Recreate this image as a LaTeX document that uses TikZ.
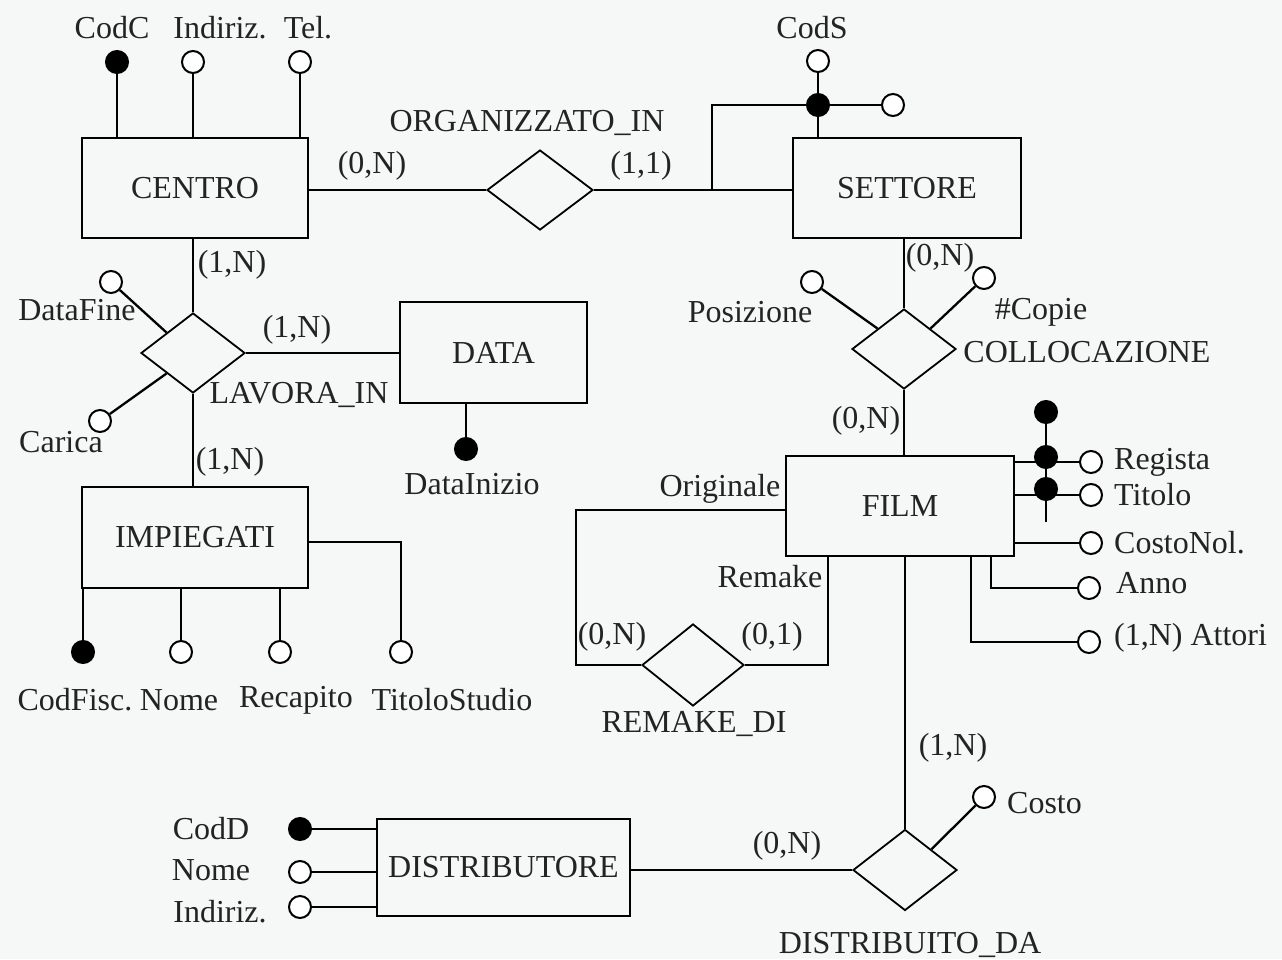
\documentclass[tikz,border=0pt]{standalone}
\usepackage{fontspec}
\setmainfont{Liberation Serif}
\usetikzlibrary{shapes.geometric}
\definecolor{bgc}{RGB}{245,248,246}
\definecolor{txt}{RGB}{35,35,35}
\begin{document}
\begin{tikzpicture}[x=1pt,y=-1pt,
  font=\fontsize{32}{38}\selectfont,
  every path/.style={line width=2.3pt},
  ent/.style={draw, rectangle, inner sep=0pt, text=txt},
  rel/.style={draw, diamond, inner sep=0pt, minimum width=104pt, minimum height=80pt, line width=1.8pt},
  oatt/.style={draw, circle, fill=white, minimum size=22pt, inner sep=0pt, line width=2pt},
  katt/.style={draw, circle, fill=black, minimum size=22pt, inner sep=0pt, line width=2pt},
  lbl/.style={inner sep=0pt, text=txt}]
\fill[bgc] (0,0) rectangle (1282,959);
\useasboundingbox (0,0) rectangle (1282,959);
% entities
\node[ent, minimum width=226pt, minimum height=100pt] (centro) at (195,188) {CENTRO};
\node[ent, minimum width=228pt, minimum height=100pt] (settore) at (907,188) {SETTORE};
\node[ent, minimum width=187pt, minimum height=101pt] (data) at (493.5,352.5) {DATA};
\node[ent, minimum width=226pt, minimum height=101pt] (imp) at (195,537.5) {IMPIEGATI};
\node[ent, minimum width=228pt, minimum height=100pt] (film) at (900,506) {FILM};
\node[ent, minimum width=253pt, minimum height=97pt] (distr) at (503.5,867.5) {DISTRIBUTORE};
% relationships
\node[rel, minimum width=106pt] (org) at (540,190) {};
\node[rel] (lav) at (193,353) {};
\node[rel] (coll) at (904,349) {};
\node[rel, minimum width=102pt, minimum height=82pt] (rem) at (693,665) {};
\node[rel, minimum height=81pt] (dist) at (905,870) {};
% relationship connectors
\draw (centro.east |- org.west) -- (org.west);
\draw (org.east) -- (org.east -| settore.west);
\draw (lav.north) -- (lav.north |- centro.south);
\draw (lav.south) -- (lav.south |- imp.north);
\draw (lav.east) -- (lav.east -| data.west);
\draw (coll.north) -- (coll.north |- settore.south);
\draw (coll.south) -- (coll.south |- film.north);
\draw (dist.north) -- (dist.north |- film.south);
\draw (dist.west) -- (dist.west -| distr.east);
\draw (film.west |- 0,510) -- (576,510) -- (576,665) -- (rem.west);
\draw (rem.east) -- (828,665) -- (film.south -| 828,0);
% CENTRO attributes
\node[katt] (cc) at (117,62) {};
\node[oatt] (ci) at (193,62) {};
\node[oatt] (ct) at (300,62) {};
\draw (cc) -- (cc |- centro.north);
\draw (ci) -- (ci |- centro.north);
\draw (ct) -- (ct |- centro.north);
% SETTORE identifier
\node[oatt] (cs1) at (818,61) {};
\node[katt] (cs2) at (818,105) {};
\node[oatt] (cs3) at (893,105) {};
\coordinate (j1) at (712,105);
\draw (cs1) -- (cs2);
\draw (cs2) -- (cs2 |- settore.north);
\draw (cs3) -- (cs2) -- (j1) -- (j1 |- org.east);
% LAVORA_IN attributes
\node[oatt] (df) at (111,282) {};
\node[oatt] (ca) at (100,421) {};
\draw (df) -- (lav.north west);
\draw (ca) -- (lav.south west);
\node[katt] (di) at (466,449) {};
\draw (di) -- (di |- data.south);
% IMPIEGATI attributes
\node[katt] (icf) at (83,652) {};
\node[oatt] (inm) at (181,652) {};
\node[oatt] (irc) at (280,652) {};
\node[oatt] (its) at (401,652) {};
\draw (icf) -- (icf |- imp.south);
\draw (inm) -- (inm |- imp.south);
\draw (irc) -- (irc |- imp.south);
\draw (its) -- (its |- 0,542) -- (imp.east |- 0,542);
% COLLOCAZIONE attributes
\node[oatt] (pos) at (812,282) {};
\node[oatt] (cop) at (984,278) {};
\draw (pos) -- (coll.north west);
\draw (cop) -- (coll.north east);
% FILM attributes
\node[oatt] (freg) at (1091,462) {};
\node[oatt] (ftit) at (1091,495) {};
\node[oatt] (fcos) at (1091,543) {};
\node[oatt] (fann) at (1089,588) {};
\node[oatt] (fatt) at (1089,642) {};
\coordinate (kt) at (1046,522);
\draw (freg) -- (freg -| film.east);
\draw (ftit) -- (ftit -| film.east);
\draw (fcos) -- (fcos -| film.east);
\draw (fann) -| (film.south -| 991,0);
\draw (fatt) -| (film.south -| 971,0);
\node[katt] (fk1) at (1046,412) {};
\draw (fk1) -- (kt);
\node[katt] (fk2) at (1046,457) {};
\node[katt] (fk3) at (1046,489) {};
% DISTRIBUITO_DA attribute
\node[oatt] (dco) at (984,797) {};
\draw (dco) -- (dist.north east);
% DISTRIBUTORE attributes
\node[katt] (dcd) at (300,829) {};
\node[oatt] (dnm) at (300,872) {};
\node[oatt] (din) at (300,907) {};
\draw (dcd) -- (dcd -| distr.west);
\draw (dnm) -- (dnm -| distr.west);
\draw (din) -- (din -| distr.west);
% labels
\node[lbl] (lcodc) at (112,28) {CodC};
\node[lbl] (lind) at (220,28) {Indiriz.};
\node[lbl] (ltel) at (308,28) {Tel.};
\node[lbl] (lcods) at (812,28) {CodS};
\node[lbl] (lorg) at (527,123) {ORGANIZZATO\_IN};
\node[lbl] (c1) at (372,166) {(0,N)};
\node[lbl] (c2) at (641,166) {(1,1)};
\node[lbl] (c3) at (232,265) {(1,N)};
\node[lbl] (c4) at (297,330) {(1,N)};
\node[lbl] (c5) at (230,462) {(1,N)};
\node[lbl] (ldf) at (77,310) {DataFine};
\node[lbl] (lca) at (61,442) {Carica};
\node[lbl] (llav) at (299,395) {LAVORA\_IN};
\node[lbl] (ldi) at (472,484) {DataInizio};
\node[lbl] (lcf) at (75,700) {CodFisc.};
\node[lbl] (lnm) at (179,700) {Nome};
\node[lbl] (lrc) at (296,700) {Recapito};
\node[lbl] (lts) at (452,700) {TitoloStudio};
\node[lbl] (c6) at (940,258) {(0,N)};
\node[lbl] (lpos) at (750,312) {Posizione};
\node[lbl] (lcop) at (1041,312) {\#Copie};
\node[lbl] (lcoll) at (1087,352) {COLLOCAZIONE};
\node[lbl] (c7) at (866,421) {(0,N)};
\node[lbl, anchor=west] (lreg) at (1113,462) {Regista};
\node[lbl, anchor=west] (ltit) at (1113,495) {Titolo};
\node[lbl, anchor=west] (lcos) at (1113,543) {CostoNol.};
\node[lbl, anchor=west] (lann) at (1115,583) {Anno};
\node[lbl, anchor=west] (latt) at (1113,638) {(1,N) Attori};
\node[lbl] (lori) at (720,489) {Originale};
\node[lbl] (lrem) at (770,577) {Remake};
\node[lbl] (c8) at (612,637) {(0,N)};
\node[lbl] (c9) at (772,637) {(0,1)};
\node[lbl] (lremdi) at (694,724) {REMAKE\_DI};
\node[lbl] (c10) at (953,748) {(1,N)};
\node[lbl, anchor=west] (lcosto) at (1006,803) {Costo};
\node[lbl] (c11) at (787,846) {(0,N)};
\node[lbl] (ldist) at (910,945) {DISTRIBUITO\_DA};
\node[lbl] (lcodd) at (211,829) {CodD};
\node[lbl] (ldnm) at (211,870) {Nome};
\node[lbl] (ldin) at (220,912) {Indiriz.};
\end{tikzpicture}
\end{document}
